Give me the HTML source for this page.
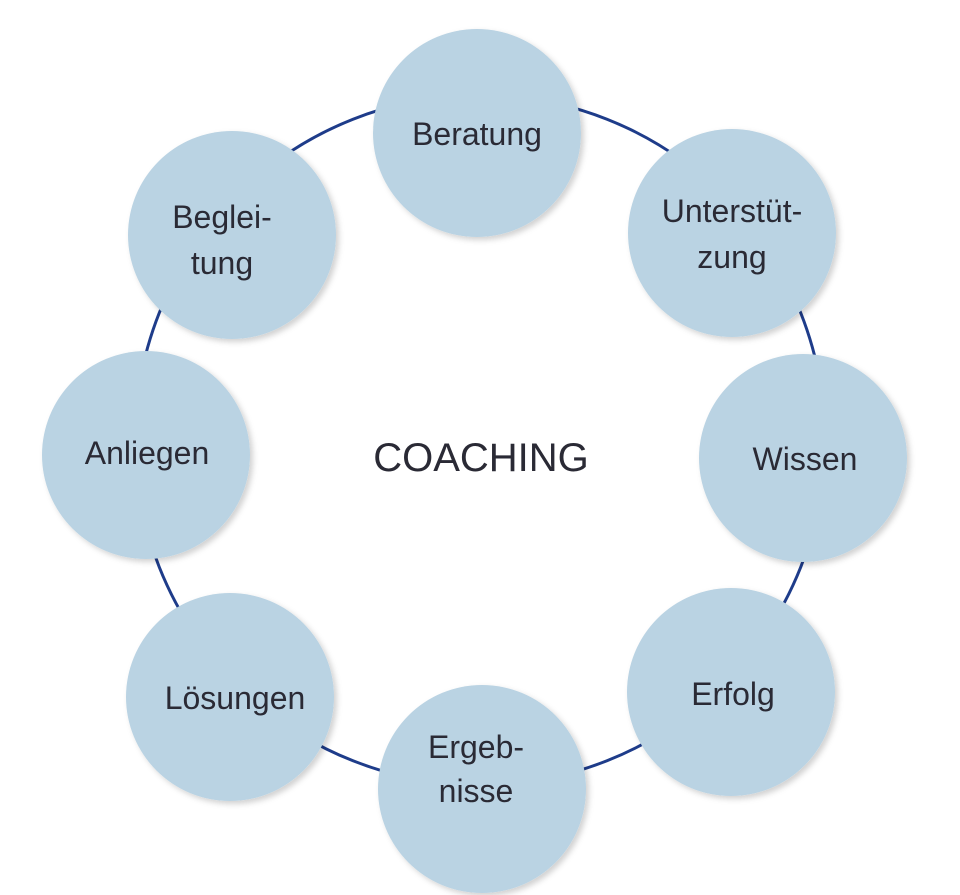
<!DOCTYPE html>
<html><head><meta charset="utf-8"><style>
html,body{margin:0;padding:0;background:#fff;}
svg{display:block;}
text{font-family:"Liberation Sans",sans-serif;fill:#2a2a35;}
</style></head><body>
<svg width="960" height="895" viewBox="0 0 960 895">
<defs>
<filter id="s" x="-20%" y="-20%" width="140%" height="140%">
<feDropShadow dx="3" dy="3" stdDeviation="3" flood-color="#000" flood-opacity="0.18"/>
</filter>
</defs>
<circle cx="480" cy="440" r="345" fill="none" stroke="#1e3c8a" stroke-width="3"/>
<g fill="#bad3e3" filter="url(#s)">
<circle cx="477" cy="133" r="104"/>
<circle cx="732" cy="233" r="104"/>
<circle cx="803" cy="458" r="104"/>
<circle cx="731" cy="692" r="104"/>
<circle cx="482" cy="789" r="104"/>
<circle cx="230" cy="697" r="104"/>
<circle cx="146" cy="455" r="104"/>
<circle cx="232" cy="235" r="104"/>
</g>
<g font-size="32" text-anchor="middle">
<text x="477" y="145">Beratung</text>
<text x="732" y="222">Unterstüt-</text>
<text x="732" y="268">zung</text>
<text x="805" y="470">Wissen</text>
<text x="733" y="705">Erfolg</text>
<text x="476" y="758">Ergeb-</text>
<text x="476" y="802">nisse</text>
<text x="235" y="709">Lösungen</text>
<text x="147" y="464">Anliegen</text>
<text x="222" y="228">Beglei-</text>
<text x="222" y="274">tung</text>
<text x="481" y="471" font-size="40">COACHING</text>
</g>
</svg>
</body></html>
